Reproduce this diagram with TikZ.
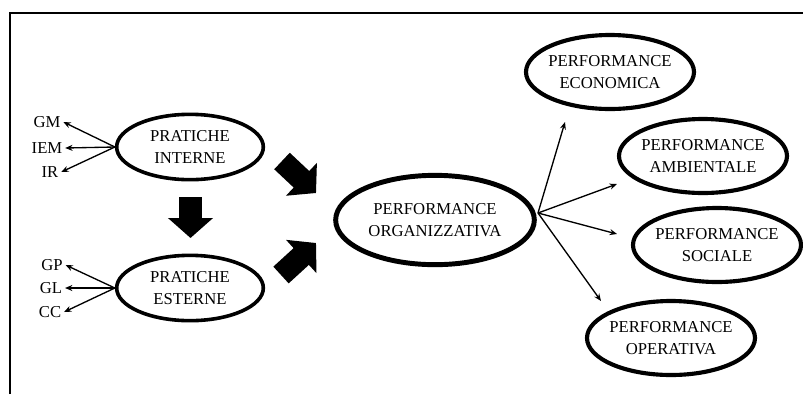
\documentclass[tikz,border=0pt]{standalone}
\usepackage{fontspec}
\setmainfont{Liberation Serif}
\usetikzlibrary{shapes.geometric,arrows.meta}

\begin{document}
\begin{tikzpicture}[x=0.75pt,y=0.75pt,
    font=\fontsize{12.5}{16.5}\selectfont,
    pratica/.style={draw, ellipse, line width=2.7pt, minimum width=110pt,
        minimum height=49pt, inner sep=0pt, align=center},
    perf/.style={draw, ellipse, line width=3.1pt, minimum width=126pt,
        minimum height=55.5pt, inner xsep=-4pt, inner ysep=0pt, align=center},
    perforg/.style={perf, line width=3.7pt, minimum width=149pt, minimum height=67pt},
    misura/.style={inner sep=2pt},
    freccia/.style={line width=1pt, -{Stealth[length=5.5pt,width=4.5pt]}},
    blocco/.style={line width=17pt, -{Triangle[length=15pt,width=33pt]}}]
    \useasboundingbox (0,0) rectangle (803,-394);
    % frame
    \draw [line width=1.5pt] (10,-394) -- (10,-13) -- (803,-13);
    % practices
    \node [pratica] (pi) at (190,-147) {PRATICHE\\INTERNE};
    \node [pratica] (pe) at (190,-288) {PRATICHE\\ESTERNE};
    \node [misura] (gm) at (47,-122) {GM};
    \node [misura] (iem) at (47,-148) {IEM};
    \node [misura] (ir) at (50,-172) {IR};
    \node [misura] (gp) at (52,-265) {GP};
    \node [misura] (gl) at (51,-288) {GL};
    \node [misura] (cc) at (50,-312) {CC};
    \foreach \m in {gm,iem,ir}
        \draw [freccia] (pi.west) -- (\m.east);
    \foreach \m in {gp,gl,cc}
        \draw [freccia] (pe.west) -- (\m.east);
    % performance
    \node [perforg] (org) at (435,-220) {PERFORMANCE\\ORGANIZZATIVA};
    \node [perf] (eco) at (610,-72) {PERFORMANCE\\ECONOMICA};
    \node [perf] (amb) at (703,-156) {PERFORMANCE\\AMBIENTALE};
    \node [perf] (soc) at (717,-245) {PERFORMANCE\\SOCIALE};
    \node [perf] (ope) at (671,-338) {PERFORMANCE\\OPERATIVA};
    \coordinate (hub) at (538,-213);
    \coordinate (toeco) at (565,-122);
    \coordinate (toamb) at (617,-184);
    \coordinate (tosoc) at (617,-234);
    \coordinate (toope) at (601,-301);
    \foreach \t in {toeco,toamb,tosoc,toope}
        \draw [freccia] (hub) -- (\t);
    % block arrows
    \coordinate (d1) at (190.5,-197);
    \coordinate (d2) at (190.5,-238);
    \coordinate (u1) at (282,-161);
    \coordinate (u2) at (316,-193);
    \coordinate (l1) at (281,-275);
    \coordinate (l2) at (316,-243);
    \draw [blocco] (d1) -- (d2);
    \draw [blocco] (u1) -- (u2);
    \draw [blocco] (l1) -- (l2);
\end{tikzpicture}
\end{document}
